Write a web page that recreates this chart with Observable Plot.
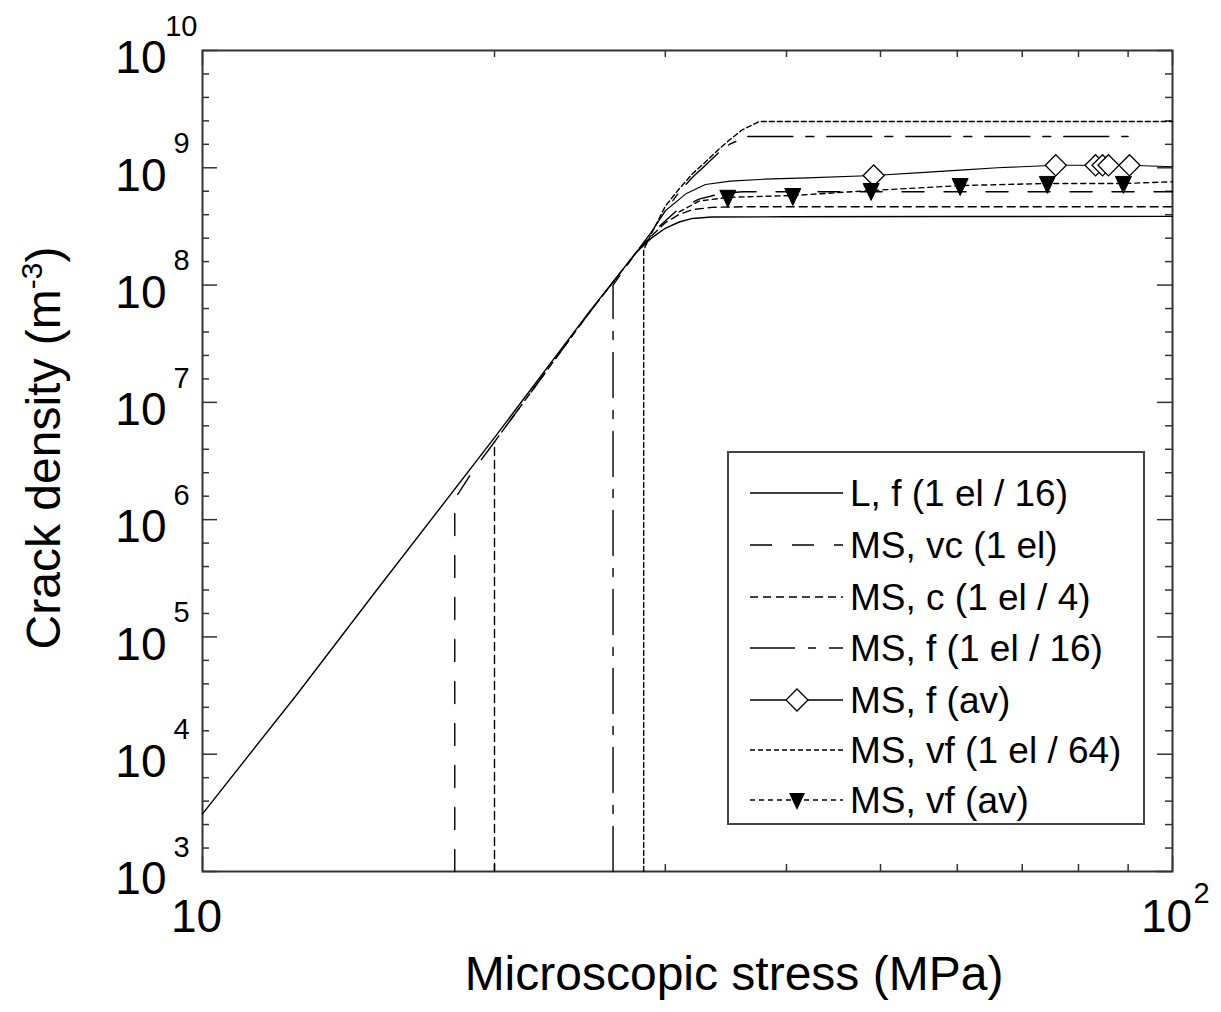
<!DOCTYPE html>
<html>
<head>
<meta charset="utf-8">
<script src="https://cdn.jsdelivr.net/npm/d3@7"></script>
<script src="https://cdn.jsdelivr.net/npm/@observablehq/plot@0.6"></script>
<style>
  body { margin: 0; background: #fff; }
  #wrap { position: relative; width: 1221px; height: 1012px; font-family: "Liberation Sans", Arial, sans-serif; }
  #legend { position: absolute; left: 727px; top: 451px; }
</style>
</head>
<body>
<div id="wrap"></div>
<script>
// ---------- tick data ----------
const xMajorTicks = [10, 100];
const xMinorTicks = [20, 30, 40, 50, 60, 70, 80, 90];
const yExponents = [3, 4, 5, 6, 7, 8, 9, 10];

// ---------- series (x: MPa, y: m^-3) ----------
const names = ["L, f (1 el / 16)", "MS, vc (1 el)", "MS, c (1 el / 4)", "MS, f (1 el / 16)",
               "MS, f (av)", "MS, vf (1 el / 64)", "MS, vf (av)"];

const L_x = [10, 12.5, 15, 20, 25, 28, 29, 30, 31, 32, 33.5, 40, 60, 100];
const L_y = [3.1e3, 3.2e4, 2.3e5, 5.0e6, 5.8e7, 1.9e8, 2.5e8, 3.05e8, 3.45e8, 3.7e8, 3.8e8, 3.82e8, 3.84e8, 3.85e8];

const vc_x = [18.2, 18.2, 19, 20, 25, 28, 29.5, 31, 32.5, 34, 36, 100];
const vc_y = [1e3, 1.5e6, 2.6e6, 4.6e6, 5.7e7, 1.9e8, 3.1e8, 4.5e8, 5.4e8, 5.95e8, 6.25e8, 6.25e8];

const c_x = [20, 20, 25, 28, 29, 30, 31, 32, 33.5, 36, 100];
const c_y = [1e3, 4.6e6, 5.7e7, 1.9e8, 2.6e8, 3.4e8, 4.0e8, 4.4e8, 4.6e8, 4.65e8, 4.65e8];

const f_x = [26.5, 26.5, 28, 29, 30, 31, 32, 33, 34, 35, 36.5, 90];
const f_y = [1e3, 1.0e8, 1.9e8, 2.8e8, 4.3e8, 6.2e8, 8.3e8, 1.05e9, 1.33e9, 1.6e9, 1.85e9, 1.85e9];

const fav_x = [30, 31.5, 33, 35, 38, 42, 49.2, 55, 61, 66, 75.8, 83.3, 84.7, 85.9, 90.3, 100];
const fav_y = [4.3e8, 6.0e8, 7.2e8, 7.7e8, 8.0e8, 8.2e8, 8.6e8, 9.1e8, 9.6e8, 1.0e9, 1.05e9, 1.05e9, 1.05e9, 1.05e9, 1.05e9, 1.02e9];
const favMark_x = [49.2, 75.8, 83.3, 84.7, 85.9, 90.3];
const favMark_y = [8.6e8, 1.05e9, 1.05e9, 1.05e9, 1.05e9, 1.05e9];

const vf_x = [28.5, 28.5, 29, 30, 31, 32, 33, 34, 35, 36, 37.5, 100];
const vf_y = [1e3, 2.0e8, 2.7e8, 4.7e8, 6.6e8, 8.9e8, 1.12e9, 1.42e9, 1.75e9, 2.1e9, 2.48e9, 2.48e9];

const vfav_x = [31, 32.5, 34.8, 40.6, 48.9, 60.4, 74.3, 89.0, 100];
const vfav_y = [4.2e8, 5.2e8, 5.6e8, 5.8e8, 6.4e8, 7.05e8, 7.35e8, 7.35e8, 7.6e8];
const vfavMark_x = [34.8, 40.6, 48.9, 60.4, 74.3, 89.0];
const vfavMark_y = [5.6e8, 5.8e8, 6.4e8, 7.05e8, 7.35e8, 7.35e8];

// ---------- styles ----------
const styles = [
  {dash: null, w: 1.4},
  {dash: "22,20", w: 1.4},
  {dash: "8,5", w: 1.4},
  {dash: "45,13,8,13", w: 1.4},
  {dash: null, w: 1.1, marker: "diamond"},
  {dash: "5,3", w: 1.4},
  {dash: "5,4", w: 1.4, marker: "triangle"}
];

const pts = (xs, ys) => xs.map((x, i) => ({x, y: ys[i]}));
const seriesPts = [pts(L_x, L_y), pts(vc_x, vc_y), pts(c_x, c_y), pts(f_x, f_y),
                   pts(fav_x, fav_y), pts(vf_x, vf_y), pts(vfav_x, vfav_y)];

const triDown = {
  draw(ctx, size) {
    const a = Math.sqrt(size / Math.PI);
    ctx.moveTo(-1.25 * a, -1.1 * a);
    ctx.lineTo(1.25 * a, -1.1 * a);
    ctx.lineTo(0, 1.55 * a);
    ctx.closePath();
  }
};

const W = 1221, H = 1012, mL = 202, mR = 49, mT = 50, mB = 141;
const iw = W - mL - mR, ih = H - mT - mB;
const ink = "#000", frameCol = "#333";
const yMinor = yExponents.slice(0, -1).flatMap(e => [1, 2, 3, 4].map(j => 10 ** (e + j / 5)));

const marks = [
  Plot.frame({stroke: frameCol, strokeWidth: 2}),
  // x ticks bottom & top
  Plot.tickX(xMinorTicks, {x: d => d, insetTop: ih - 7, stroke: frameCol, strokeWidth: 1.5}),
  Plot.tickX(xMinorTicks, {x: d => d, insetBottom: ih - 7, stroke: frameCol, strokeWidth: 1.5}),
  Plot.tickX(xMajorTicks, {x: d => d, insetTop: ih - 15, stroke: frameCol, strokeWidth: 1.5}),
  Plot.tickX(xMajorTicks, {x: d => d, insetBottom: ih - 15, stroke: frameCol, strokeWidth: 1.5}),
  // y ticks left & right
  Plot.tickY(yExponents, {y: d => 10 ** d, insetRight: iw - 15, stroke: frameCol, strokeWidth: 1.5}),
  Plot.tickY(yExponents, {y: d => 10 ** d, insetLeft: iw - 15, stroke: frameCol, strokeWidth: 1.5}),
  Plot.tickY(yMinor, {y: d => d, insetRight: iw - 7, stroke: frameCol, strokeWidth: 1.5}),
  Plot.tickY(yMinor, {y: d => d, insetLeft: iw - 7, stroke: frameCol, strokeWidth: 1.5}),
  // y tick labels
  Plot.text(yExponents, {y: d => 10 ** d, text: () => "10", frameAnchor: "left", textAnchor: "end",
    dx: -36, dy: 8, fontSize: 46, lineAnchor: "middle", fill: ink}),
  Plot.text(yExponents.filter(d => d < 10), {y: d => 10 ** d, text: d => String(d), frameAnchor: "left",
    textAnchor: "start", dx: -29, dy: -24, fontSize: 29, lineAnchor: "middle", fill: ink}),
  Plot.text(yExponents.filter(d => d >= 10), {y: d => 10 ** d, text: d => String(d), frameAnchor: "left",
    textAnchor: "end", dx: -5, dy: -24, fontSize: 29, lineAnchor: "middle", fill: ink}),
  // x tick labels
  Plot.text(xMajorTicks.slice(0, 1), {x: d => d, text: d => String(d), frameAnchor: "bottom", textAnchor: "middle",
    dx: -6, dy: 46, fontSize: 46, lineAnchor: "middle", fill: ink}),
  Plot.text(xMajorTicks.slice(1), {x: d => d, text: () => "10", frameAnchor: "bottom", textAnchor: "middle",
    dx: -6, dy: 46, fontSize: 46, lineAnchor: "middle", fill: ink}),
  Plot.text(xMajorTicks.slice(1), {x: d => d, text: d => String(Math.log10(d)), frameAnchor: "bottom", textAnchor: "start",
    dx: 21, dy: 22, fontSize: 29, lineAnchor: "middle", fill: ink})
];

seriesPts.forEach((p, i) => {
  marks.push(Plot.line(p, {x: "x", y: "y", stroke: ink, strokeWidth: styles[i].w,
    strokeDasharray: styles[i].dash || undefined}));
});
marks.push(Plot.dot(pts(favMark_x, favMark_y), {x: "x", y: "y", symbol: "diamond2", r: 9.5,
  fill: "white", stroke: ink, strokeWidth: 1.3}));
marks.push(Plot.dot(pts(vfavMark_x, vfavMark_y), {x: "x", y: "y", symbol: triDown, r: 6.4,
  fill: ink, stroke: ink, strokeWidth: 1}));

const chart = Plot.plot({
  width: W, height: H,
  marginLeft: mL, marginRight: mR, marginTop: mT, marginBottom: mB,
  style: {fontFamily: '"Liberation Sans", Arial, sans-serif', background: "#fff", overflow: "visible"},
  x: {type: "log", domain: [10, 100], axis: null},
  y: {type: "log", domain: [1e3, 1e10], axis: null},
  marks
});

const svg = d3.select(chart);
// axis titles
svg.append("text").attr("x", 734).attr("y", 990).attr("text-anchor", "middle")
  .attr("font-size", 48).attr("fill", ink).text("Microscopic stress (MPa)");
const yt = svg.append("text").attr("transform", "translate(60,448) rotate(-90)")
  .attr("text-anchor", "middle").attr("font-size", 48).attr("fill", ink);
yt.append("tspan").text("Crack density (m");
yt.append("tspan").attr("font-size", 30).attr("dy", -18).text("-3");
yt.append("tspan").attr("dy", 18).text(")");

document.getElementById("wrap").appendChild(chart);

// ---------- legend ----------
const lw = 418, lh = 374;
const leg = d3.select("#wrap").append("svg").attr("id", "legend")
  .attr("width", lw).attr("height", lh)
  .style("font-family", '"Liberation Sans", Arial, sans-serif');
leg.append("rect").attr("x", 1).attr("y", 1).attr("width", lw - 2).attr("height", lh - 2)
  .attr("fill", "#fff").attr("stroke", "#444").attr("stroke-width", 2);
const rowY = [42, 94, 146, 197, 249, 299, 349];
names.forEach((n, i) => {
  const y = rowY[i];
  const g = leg.append("g");
  g.append("line").attr("x1", 23).attr("x2", 116).attr("y1", y).attr("y2", y)
    .attr("stroke", ink).attr("stroke-width", 1.4)
    .attr("stroke-dasharray", styles[i].dash || null);
  if (styles[i].marker === "diamond") {
    g.append("path").attr("d", `M70,${y - 11}L81,${y}L70,${y + 11}L59,${y}Z`)
      .attr("fill", "#fff").attr("stroke", ink).attr("stroke-width", 1.3);
  }
  if (styles[i].marker === "triangle") {
    g.append("path").attr("d", `M62,${y - 7}L78,${y - 7}L70,${y + 10}Z`).attr("fill", ink);
  }
  g.append("text").attr("x", 123).attr("y", y + 13).attr("font-size", 37).attr("fill", ink).text(n);
});
</script>
</body>
</html>
